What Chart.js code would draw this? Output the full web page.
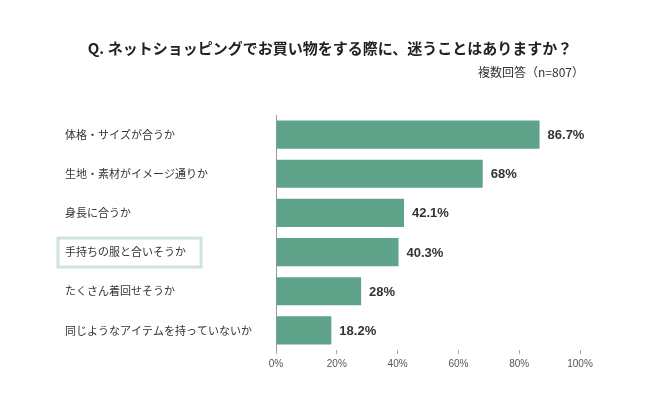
<!DOCTYPE html>
<html><head><meta charset="utf-8">
<script src="https://cdn.jsdelivr.net/npm/chart.js@4/dist/chart.umd.min.js"></script>
<style>html,body{margin:0;padding:0;background:#fff}#w{width:650px;height:418px}</style>
</head><body><div id="w"><canvas id="c"></canvas></div>
<script>
const categories = ["体格・サイズが合うか","生地・素材がイメージ通りか","身長に合うか","手持ちの服と合いそうか","たくさん着回せそうか","同じようなアイテムを持っていないか"];
const values = [86.7, 68, 42.1, 40.3, 28, 18.2];
const valueLabels = ["86.7%","68%","42.1%","40.3%","28%","18.2%"];
const tickLabels = ["0%","20%","40%","60%","80%","100%"];
const highlightIndex = 3;
const FONT = '"Noto Sans CJK JP", "Noto Sans", sans-serif';

const overlay = {
  id:'overlay',
  afterDraw(chart){
    const ctx = chart.ctx, y = chart.scales.y, x = chart.scales.x;
    ctx.save();
    ctx.fillStyle='#222';
    ctx.font='bold 15px '+FONT; ctx.textAlign='center'; ctx.textBaseline='middle';
    ctx.fillText('Q. ネットショッピングでお買い物をする際に、迷うことはありますか？',330,48);
    ctx.font='12px '+FONT; ctx.textAlign='right'; ctx.fillStyle='#333';
    ctx.fillText('複数回答（n=807）',584,72);
    categories.forEach((c,i)=>{
      const py = y.getPixelForValue(i);
      ctx.font='11px '+FONT; ctx.textAlign='left'; ctx.fillStyle='#333';
      ctx.fillText(c,65,py);
      if(i===highlightIndex){
        ctx.strokeStyle='#cfe3d8'; ctx.lineWidth=3;
        ctx.strokeRect(58,py-14,143,29);
      }
      ctx.font='bold 13px "Liberation Sans", Arial, sans-serif'; ctx.fillStyle='#333';
      ctx.fillText(valueLabels[i], x.getPixelForValue(values[i])+8, py+1);
    });
    ctx.restore();
  }
};

new Chart(document.getElementById('c'),{
  type:'bar',
  data:{labels:categories,datasets:[{data:values,backgroundColor:'#5fa38a',barPercentage:0.72,categoryPercentage:1}]},
  options:{
    indexAxis:'y',responsive:true,maintainAspectRatio:false,animation:false,
    layout:{padding:{left:276,right:70,top:115,bottom:44}},
    plugins:{legend:{display:false},tooltip:{enabled:false}},
    scales:{
      x:{min:0,max:100,afterBuildTicks(s){s.ticks=tickLabels.map((t,i)=>({value:i*20}));},
        ticks:{callback:(v,i)=>tickLabels[i],color:'#555',font:{size:10,family:'"Liberation Sans", Arial'},padding:4},
        grid:{display:true,drawOnChartArea:false,tickLength:4,color:'#aaa'},border:{display:false}},
      y:{ticks:{display:false},grid:{display:false,drawTicks:false},border:{display:true,color:'#999'}}
    }
  },
  plugins:[overlay]
});
</script></body></html>
